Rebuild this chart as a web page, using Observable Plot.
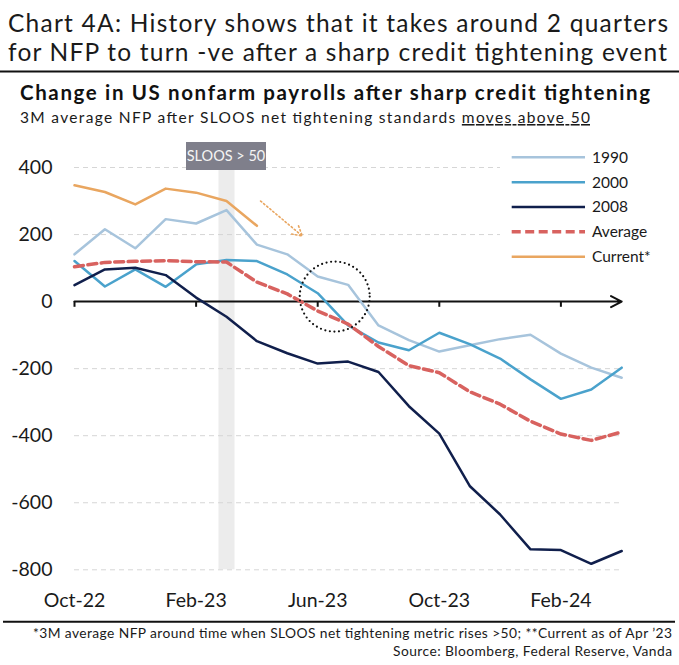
<!DOCTYPE html>
<html><head><meta charset="utf-8">
<script src="https://cdn.jsdelivr.net/npm/d3@7"></script>
<script src="https://cdn.jsdelivr.net/npm/@observablehq/plot@0.6"></script>
<style>
body{margin:0;background:#fff;}
#wrap{position:relative;width:679px;height:665px;overflow:hidden;background:#fff;font-family:Lato,sans-serif;color:#1a1a1a;}
.abs{position:absolute;}
</style></head><body><div id="wrap"></div>
<script>
// ---- data ----
const months = ["Oct-22","Nov-22","Dec-22","Jan-23","Feb-23","Mar-23","Apr-23","May-23","Jun-23","Jul-23","Aug-23","Sep-23","Oct-23","Nov-23","Dec-23","Jan-24","Feb-24","Mar-24","Apr-24"];
const s1990 = [141,216,159,246,233,273,170,141,75,50,-71,-115,-149,-130,-112,-99,-155,-197,-227];
const s2000 = [121,45,96,44,111,124,121,81,25,-71,-122,-145,-93,-127,-170,-232,-290,-262,-197];
const s2008 = [49,96,101,79,12,-45,-118,-154,-185,-179,-210,-312,-394,-550,-635,-739,-741,-782,-744];
const sAvg = [104,117,120,122,119,118,58,23,-28,-67,-134,-191,-212,-269,-306,-357,-395,-414,-389];
const sCurrent = [347,327,290,337,325,300,226];
const yTicks = [-800,-600,-400,-200,0,200,400];
const xTickLabels = ["Oct-22","Feb-23","Jun-23","Oct-23","Feb-24"];
const sloosMonth = "Mar-23";
const sloosLabel = "SLOOS > 50";
const seriesNames = ["1990","2000","2008","Average","Current*"];
const seriesColors = ["#a7c4dc","#4aa2cc","#101f4c","#d8625f","#e9a660"];
const circleNote = [{m: 8.56, v: 15}];
const arrowNote = [{m1: 6.12, v1: 300, m2: 7.49, v2: 196}];
const titleLines = ["Chart 4A: History shows that it takes around 2 quarters","for NFP to turn -ve after a sharp credit tightening event"];
const chartTitle = "Change in US nonfarm payrolls after sharp credit tightening";
const subtitleA = "3M average NFP after SLOOS net tightening standards ";
const subtitleB = "moves above 50";
const foot1 = "*3M average NFP around time when SLOOS net tightening metric rises >50; **Current as of Apr \u201923";
const foot2 = "Source: Bloomberg, Federal Reserve, Vanda";

// ---- build ----
const wrap = d3.select("#wrap");
const FONT = "Lato, sans-serif";

// header
const hdr = wrap.append("svg").attr("class","abs").style("left","0px").style("top","0px")
  .attr("width",679).attr("height",130);
hdr.append("text").attr("x",8).attr("y",32).attr("font-family",FONT).attr("font-size",24.5)
  .attr("fill","#1a1a1a").attr("textLength",660).text(titleLines[0]);
hdr.append("text").attr("x",8).attr("y",61).attr("font-family",FONT).attr("font-size",24.5)
  .attr("fill","#1a1a1a").attr("textLength",659).text(titleLines[1]);
hdr.append("line").attr("x1",0).attr("x2",679).attr("y1",71.5).attr("y2",71.5).attr("stroke","#111").attr("stroke-width",2);
hdr.append("text").attr("x",20).attr("y",100).attr("font-family",FONT).attr("font-size",20.5).attr("font-weight",700)
  .attr("fill","#111").attr("textLength",630).text(chartTitle);
const sub = hdr.append("text").attr("x",20).attr("y",123).attr("font-family",FONT).attr("font-size",15.5)
  .attr("fill","#1a1a1a").attr("textLength",570);
sub.append("tspan").text(subtitleA);
sub.append("tspan").attr("text-decoration","underline").text(subtitleB);

// plot
const idxOf = (d, i) => i;
const tickIdx = xTickLabels.map(l => months.indexOf(l));
const sloosIdx = months.indexOf(sloosMonth);
const H = 490, TOP = 130;
const plot = Plot.plot({
  width: 679, height: H,
  marginLeft: 74, marginRight: 57.8, marginTop: 37, marginBottom: 50.7,
  x: {domain: [0, months.length - 1]},
  y: {domain: [-800, 400]},
  style: {fontFamily: FONT, fontSize: "19.5px", color: "#1a1a1a", background: "transparent", overflow: "visible"},
  marks: [
    Plot.ruleX([sloosIdx], {y1: -800, y2: 400, stroke: "#ececec", strokeWidth: 16}),
    Plot.ruleY(yTicks.filter(d => d !== 0), {stroke: "#d6d6d6", strokeDasharray: "5,4", strokeWidth: 1}),
    Plot.axisY(yTicks, {tickSize: 0, tickPadding: 22, fontSize: 19.5, label: null, tickFormat: d => String(d)}),
    Plot.axisX(tickIdx, {tickSize: 0, tickPadding: 23, fontSize: 19.5, label: null, tickFormat: i => months[i]}),
    Plot.arrow([0], {x1: 0, x2: months.length - 1, y1: 0, y2: 0, stroke: "#111", strokeWidth: 2, headLength: 9, headAngle: 55}),
    Plot.ruleX(tickIdx, {y1: 0, y2: -17, stroke: "#111", strokeWidth: 2}),
    Plot.line(s1990, {x: idxOf, y: d => d, stroke: seriesColors[0], strokeWidth: 2.5}),
    Plot.line(s2000, {x: idxOf, y: d => d, stroke: seriesColors[1], strokeWidth: 2.5}),
    Plot.line(s2008, {x: idxOf, y: d => d, stroke: seriesColors[2], strokeWidth: 2.5}),
    Plot.line(sAvg, {x: idxOf, y: d => d, stroke: seriesColors[3], strokeWidth: 3.5, strokeDasharray: "9,4.5"}),
    Plot.line(sCurrent, {x: idxOf, y: d => d, stroke: seriesColors[4], strokeWidth: 2.5}),
    Plot.dot(circleNote, {x: "m", y: "v", r: 35, stroke: "#111", fill: "none", strokeWidth: 2.2, strokeDasharray: "0,4.6", strokeLinecap: "round"}),
    Plot.arrow(arrowNote, {x1: "m1", y1: "v1", x2: "m2", y2: "v2", stroke: seriesColors[4], strokeWidth: 1.6, strokeDasharray: "1.5,2.5", headLength: 10, headAngle: 60})
  ]
});
d3.select(plot).attr("class","abs").style("left","0px").style("top", TOP + "px");
wrap.node().appendChild(plot);

// SLOOS label box
const xs = plot.scale("x");
const cx = xs.apply(sloosIdx);
wrap.append("div").attr("class","abs")
  .style("left", (cx - 40) + "px").style("top","141.5px").style("width","80px").style("height","28.5px")
  .style("background","#7f7f8b").style("color","#f4f4f4").style("font-size","14.5px")
  .style("line-height","28.5px").style("text-align","center").text(sloosLabel);

// legend
const lg = wrap.append("svg").attr("class","abs").style("left","500px").style("top","143px")
  .attr("width",165).attr("height",127).style("background","#fff");
seriesNames.forEach((n, k) => {
  const yy = 14.3 + k * 24.85;
  lg.append("line").attr("x1",11.7).attr("x2",85).attr("y1",yy).attr("y2",yy)
    .attr("stroke",seriesColors[k]).attr("stroke-width", k === 3 ? 3.5 : 2.5)
    .attr("stroke-dasharray", k === 3 ? "9,4.5" : null);
  lg.append("text").attr("x",92).attr("y",yy).attr("dy","0.35em").attr("font-family",FONT)
    .attr("font-size",15.5).attr("fill","#1a1a1a").text(n);
});

// footer
const ft = wrap.append("svg").attr("class","abs").style("left","0px").style("top","615px")
  .attr("width",679).attr("height",50);
ft.append("line").attr("x1",3).attr("x2",675).attr("y1",6.8).attr("y2",6.8).attr("stroke","#111").attr("stroke-width",2);
ft.append("text").attr("x",33).attr("y",23).attr("font-family",FONT).attr("font-size",13.8)
  .attr("fill","#1a1a1a").attr("textLength",639).text(foot1);
ft.append("text").attr("x",393).attr("y",41).attr("font-family",FONT).attr("font-size",13.8)
  .attr("fill","#1a1a1a").attr("textLength",279).text(foot2);
</script></body></html>
